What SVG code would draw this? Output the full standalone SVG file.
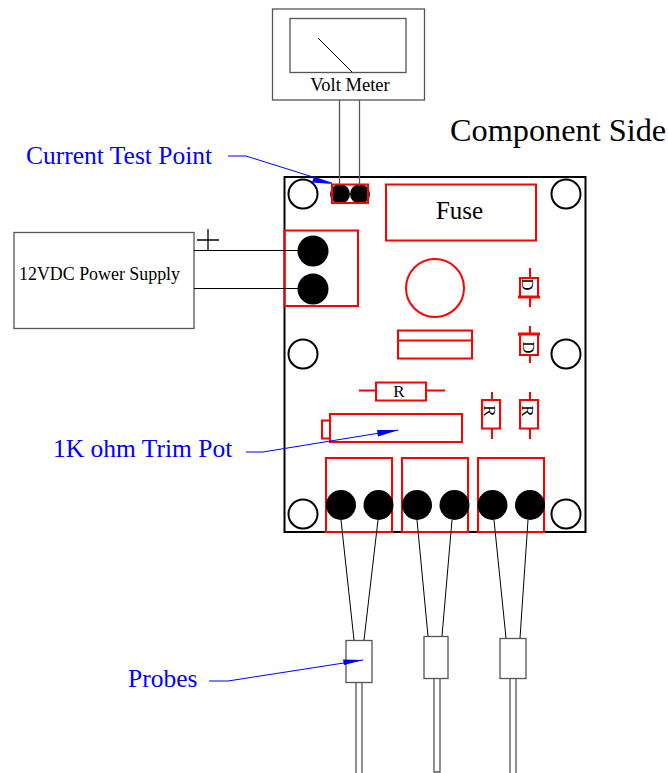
<svg xmlns="http://www.w3.org/2000/svg" width="668" height="773" viewBox="0 0 668 773">
<style>
text{font-family:"Liberation Serif","Times New Roman",serif;fill:#000}
.g{fill:none;stroke:#555;stroke-width:1.3}
.k{fill:none;stroke:#000;stroke-width:1}
.b{fill:none;stroke:#000;stroke-width:2}
.r{fill:none;stroke:#f00;stroke-width:2}
.d{fill:#000;stroke:none}
.bl{fill:none;stroke:#00f;stroke-width:1}
.ah{fill:#00f;stroke:none}
.lb{font-size:25.500px}
</style>
<rect width="668" height="773" fill="#fff"/>
<g id="board">
<rect class="b" x="284.500" y="177" width="301" height="355"/>
<circle class="b" cx="303" cy="194" r="14.500"/>
<circle class="b" cx="566" cy="194" r="14.500"/>
<circle class="b" cx="303" cy="354" r="14.500"/>
<circle class="b" cx="566" cy="354" r="14.500"/>
<circle class="b" cx="303" cy="514" r="14.500"/>
<circle class="b" cx="566" cy="514" r="14.500"/>
</g>
<g id="volt-meter">
<rect class="g" x="272.500" y="9" width="152" height="91"/>
<rect class="g" x="290" y="18.500" width="116" height="54"/>
<line class="k" x1="318" y1="38" x2="352" y2="72"/>
<text x="350" y="91" font-size="18.500" text-anchor="middle">Volt Meter</text>
</g>
<g id="test-point">
<circle class="d" cx="340" cy="194" r="10"/>
<circle class="d" cx="360" cy="194" r="10"/>
<rect class="r" x="332" y="184.500" width="36" height="18.500"/>
</g>
<g id="power-supply">
<rect class="g" x="14" y="232.500" width="180" height="96"/>
<text x="19" y="280" font-size="17.900">12VDC Power Supply</text>
<path class="k" d="M197 240H219M208 229V250" style="stroke-width:1.300"/>
</g>
<g id="power-terminal">
<rect class="r" x="284.500" y="230.500" width="73.500" height="75.500"/>
<circle class="d" cx="313" cy="251" r="15.500"/>
<circle class="d" cx="313" cy="289" r="15.500"/>
</g>
<g id="fuse">
<rect class="r" x="386" y="184.500" width="150" height="56"/>
<text x="459.500" y="219" font-size="25" text-anchor="middle">Fuse</text>
</g>
<g id="capacitor"><circle class="r" cx="435" cy="288" r="29"/></g>
<g id="relay"><rect class="r" x="398" y="330.500" width="74" height="28"/><line class="r" x1="398" y1="340.500" x2="472" y2="340.500"/></g>
<g id="diode-1">
<rect class="r" x="520" y="278" width="18" height="19"/>
<path class="r" d="M530 268V278M530 297V307"/>
<line x1="518" y1="297" x2="540" y2="297" stroke="#f00" stroke-width="3"/>
<text transform="translate(522 284.500) rotate(90)" font-size="17" text-anchor="middle">D</text>
</g>
<g id="diode-2">
<rect class="r" x="520" y="334" width="18" height="21"/>
<path class="r" d="M530 326V334M530 355V363"/>
<line x1="518" y1="334" x2="540" y2="334" stroke="#f00" stroke-width="3"/>
<text transform="translate(523 347.500) rotate(90)" font-size="17" text-anchor="middle">D</text>
</g>
<g id="resistor-h">
<rect class="r" x="376" y="382.500" width="50" height="18"/>
<path class="r" d="M359 390.500H376M426 390.500H445"/>
<text x="399" y="396.500" font-size="17" text-anchor="middle">R</text>
</g>
<g id="resistor-v1">
<rect class="r" x="482" y="400" width="18" height="28.500"/>
<path class="r" d="M492 392V400M492 428.500V439"/>
<text transform="translate(484 411) rotate(90)" font-size="17" text-anchor="middle">R</text>
</g>
<g id="resistor-v2">
<rect class="r" x="520" y="400" width="18" height="28.500"/>
<path class="r" d="M530 392V400M530 428.500V439"/>
<text transform="translate(522 411) rotate(90)" font-size="17" text-anchor="middle">R</text>
</g>
<g id="trim-pot">
<rect class="r" x="330" y="414" width="132" height="28"/>
<rect class="r" x="322" y="420.500" width="8" height="18"/>
</g>
<g id="terminal-1">
<rect class="r" x="326" y="458" width="66" height="74"/>
<circle class="d" cx="341" cy="505" r="15"/>
<circle class="d" cx="378.500" cy="505" r="15"/>
</g>
<g id="terminal-2">
<rect class="r" x="402" y="458" width="66" height="74"/>
<circle class="d" cx="417" cy="505" r="15"/>
<circle class="d" cx="454.500" cy="505" r="15"/>
</g>
<g id="terminal-3">
<rect class="r" x="478" y="458" width="66" height="74"/>
<circle class="d" cx="492.500" cy="505" r="15"/>
<circle class="d" cx="530" cy="505" r="15"/>
</g>
<g id="probe-1"><rect class="g" x="346" y="640.500" width="26" height="42"/><path class="g" d="M356 682.500V773M362 682.500V773"/></g>
<g id="probe-2"><rect class="g" x="424" y="636.500" width="24" height="42"/><path class="g" d="M434 678.500V772H440V678.500"/></g>
<g id="probe-3"><rect class="g" x="500" y="638.500" width="26" height="40"/><path class="g" d="M510 678.500V773M516 678.500V773"/></g>
<g id="connectors">
<path class="g" d="M339.500 100V186M359.500 100V186"/>
<path class="k" d="M194 250.500H298M194 288.500H298"/>
<path class="k" d="M341 520L354 640M378 520L364 640M417 520L428 636M452 520L442 636M494 520L506 638M528 520L520 638"/>
<path class="bl" d="M228 156H246L332 183"/>
<polygon class="ah" points="332.500,184 312,182.500 314,176.500"/>
<path class="bl" d="M246 452H263L398 430"/>
<polygon class="ah" points="399,430 378,436.500 377,430"/>
<path class="bl" d="M209 681H228L363 660"/>
<polygon class="ah" points="363,660 344,665 343,659.500"/>
</g>
<g id="labels">
<text x="450" y="141" font-size="32.300">Component Side</text>
<text class="lb" x="26" y="164" style="fill:#00f">Current Test Point</text>
<text class="lb" x="53" y="457" style="fill:#00f">1K ohm Trim Pot</text>
<text class="lb" x="128" y="687" style="fill:#00f">Probes</text>
</g>
</svg>
